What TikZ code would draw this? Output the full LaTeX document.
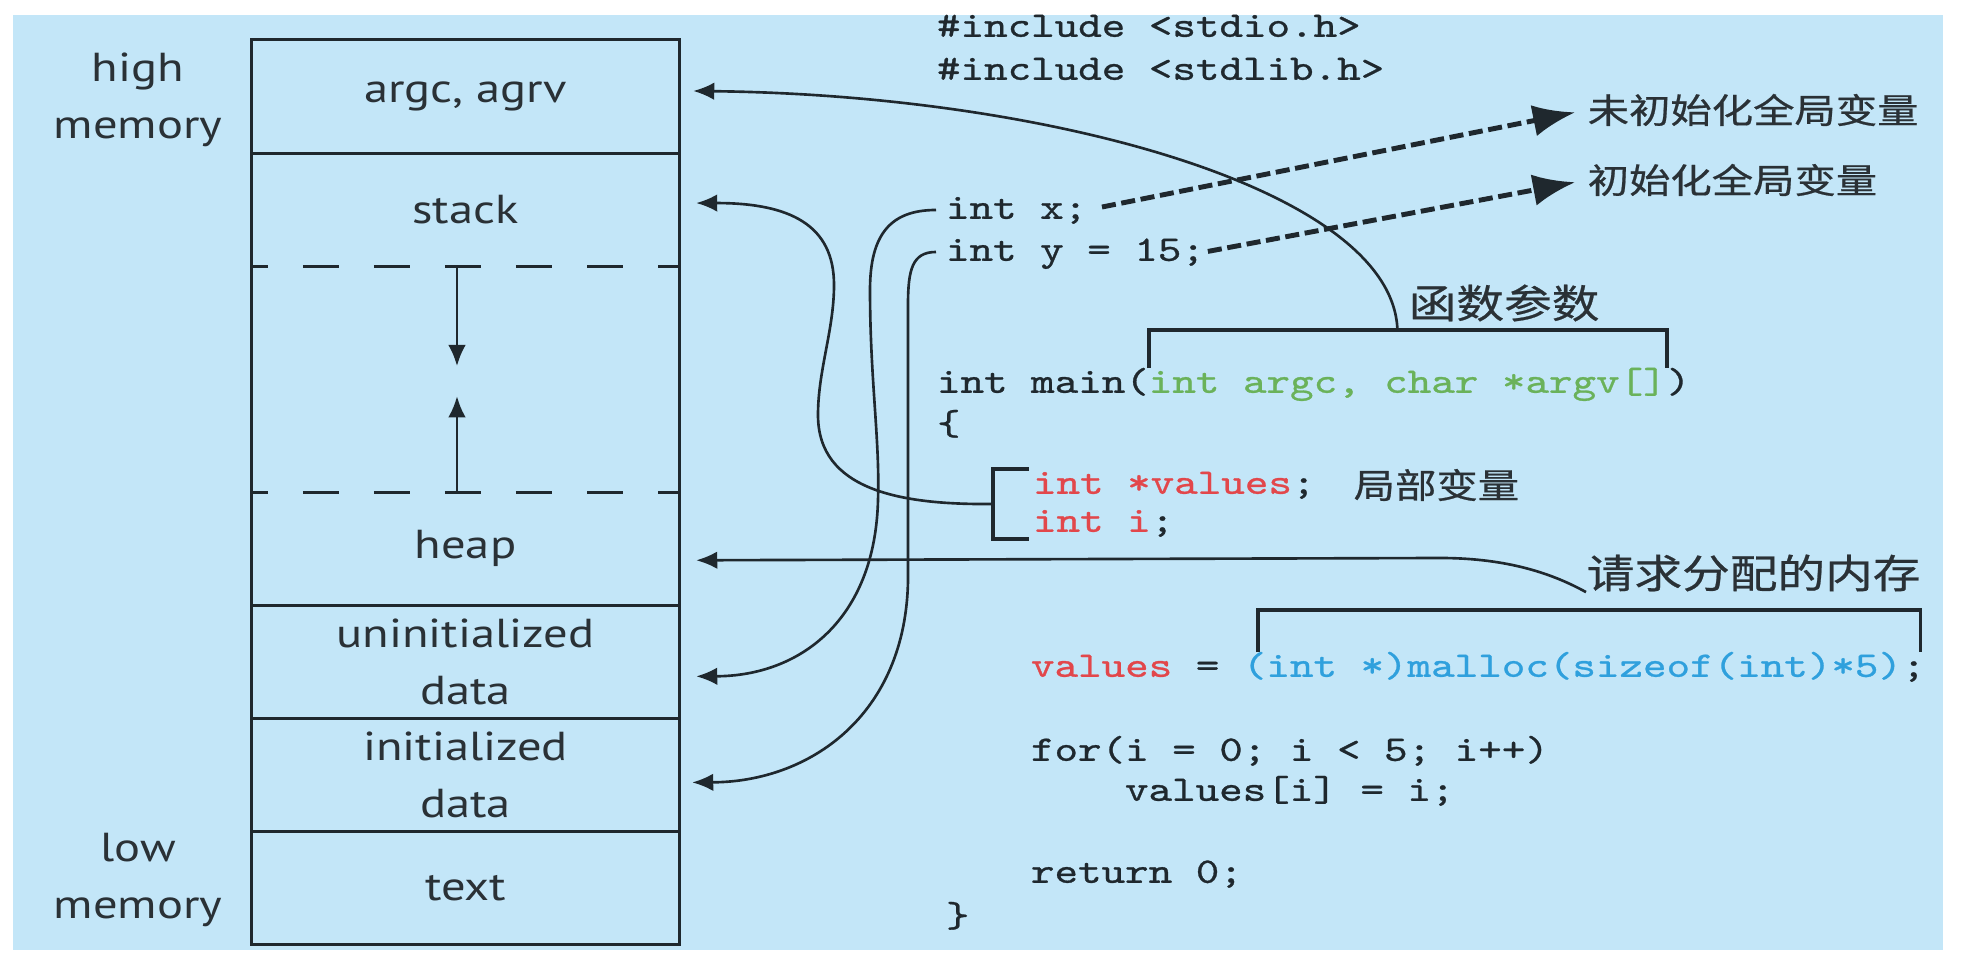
\documentclass[tikz,border=0pt]{standalone}
\usepackage{fontspec}
\setsansfont{PT Sans}[FakeStretch=1.2]
\setmonofont{lmmono10-regular.otf}[FakeStretch=1.25, FakeBold=0.8]
\newfontfamily\cjk{Noto Sans CJK SC}[FakeStretch=1.2, FakeBold=0.6]
\usetikzlibrary{arrows.meta,positioning}

\definecolor{panelBg}{HTML}{C3E6F8}
\definecolor{ink}{HTML}{1F282E}
\definecolor{labelGray}{HTML}{2A3136}
\definecolor{codeRed}{HTML}{E2474B}
\definecolor{codeGreen}{HTML}{6AB25A}
\definecolor{codeBlue}{HTML}{2FA0DD}

\tikzset{
  >={Latex[length=6pt,width=5pt]},
  seg/.style = {minimum width=4.27cm, minimum height=1.13cm, inner sep=0, outer sep=0, align=center, text=labelGray, font=\sffamily\fontsize{11.5}{16.2}\selectfont},
  memLabel/.style = {inner sep=0, align=center, text=labelGray, font=\sffamily\fontsize{11.5}{16.2}\selectfont},
  code/.style = {inner sep=0, outer sep=0, anchor=west, text=ink, text height=7pt, text depth=2pt, font=\ttfamily\fontsize{10.2}{12}\selectfont},
  cjkNote/.style = {inner sep=0, anchor=west, text=labelGray, font=\cjk\fontsize{9.8}{12}\selectfont},
  cjkTitle/.style = {cjkNote, font=\cjk\fontsize{11.3}{13}\selectfont},
  memFrame/.style = {draw=ink, line width=0.85pt},
  gapLine/.style = {draw=ink, line width=0.85pt, dash pattern=on 10.2pt off 10pt, dash phase=5.7pt},
  conn/.style = {draw=ink, line width=0.75pt, ->},
  globArrow/.style = {draw=ink, line width=1.4pt, dash pattern=on 4pt off 1.6pt, -{Latex[length=12pt,width=9pt]}},
  brk/.style = {draw=ink, line width=1pt},
}

\begin{document}
\begin{tikzpicture}[x=0.01cm, y=-0.01cm]
  \useasboundingbox (0,0) rectangle (1964,980);
  \fill[white] (0,0) rectangle (1964,980);
  \fill[panelBg] (13,15) rectangle (1943,950);

  % ----------------------------------------------------------------------
  % Memory layout
  % ----------------------------------------------------------------------
  \node[seg] (argcSeg) at (465.5,96.5) {argc, agrv};
  \node[seg, below=0pt of argcSeg] (stackSeg) {stack};
  \node[seg, below=0pt of stackSeg, minimum height=2.26cm] (gapSeg) {};
  \node[seg, below=0pt of gapSeg] (heapSeg) {heap};
  \node[seg, below=0pt of heapSeg] (uninitSeg) {uninitialized\\data};
  \node[seg, below=0pt of uninitSeg] (initSeg) {initialized\\data};
  \node[seg, below=0pt of initSeg] (textSeg) {text};

  \draw[memFrame] (argcSeg.north west) rectangle (textSeg.south east);
  \foreach \s in {stackSeg,uninitSeg,initSeg,textSeg} {
    \draw[memFrame] (\s.north west) -- (\s.north east);
  }
  \draw[gapLine] (gapSeg.north west) -- (gapSeg.north east);
  \draw[gapLine] (gapSeg.south west) -- (gapSeg.south east);

  % stack grows down, heap grows up
  \draw[conn] ([xshift=-0.85mm]gapSeg.north) -- ++(0,100);
  \draw[conn] ([xshift=-0.85mm]gapSeg.south) -- ++(0,-96);

  \node[memLabel] (highLbl) at (138,100) {high\\memory};
  \node[memLabel] (lowLbl) at (138,880) {low\\memory};

  % ----------------------------------------------------------------------
  % Program text
  % ----------------------------------------------------------------------
  \node[code] (inc1) at (937,28) {\#include <stdio.h>};
  \node[code] (inc2) at (937,71) {\#include <stdlib.h>};
  \node[code] (declX) at (946,210) {int x;};
  \node[code] (declY) at (946,252) {int y = 15;};
  \node[code] (mainHd) at (937,384) {int main(};
  \node[code, right=0pt of mainHd, text=codeGreen] (mainArgs) {int argc, char *argv[]};
  \node[code, right=0pt of mainArgs] (mainTl) {)};
  \node[code] (lbrace) at (937,426) {\{};
  \node[code, text=codeRed] (valDecl) at (1033,485) {int *values};
  \node[code, right=0pt of valDecl] (valSemi) {;};
  \node[code, text=codeRed] (iDecl) at (1033,523) {int i};
  \node[code, right=0pt of iDecl] (iSemi) {;};
  \node[code, text=codeRed] (mallocVar) at (1031,668) {values};
  \node[code, right=0pt of mallocVar] (mallocEq) {\ =\ \mbox{}};
  \node[code, right=0pt of mallocEq, text=codeBlue] (mallocCall) {(int *)malloc(sizeof(int)*5)};
  \node[code, right=0pt of mallocCall] (mallocSemi) {;};
  \node[code] (forLn) at (1031,752) {for(i = 0; i < 5; i++)};
  \node[code] (bodyLn) at (1125,792) {values[i] = i;};
  \node[code] (retLn) at (1031,874) {return 0;};
  \node[code] (rbrace) at (946,918) {\}};

  % notes
  \node[cjkNote] (uninitNote) at (1587,110) {未初始化全局变量};
  \node[cjkNote] (initNote) at (1587,180) {初始化全局变量};
  \node[cjkTitle] (argsNote) at (1408,303) {函数参数};
  \node[cjkNote] (localNote) at (1353,485) {局部变量};
  \node[cjkTitle] (heapNote) at (1586,573) {请求分配的内存};

  % brackets
  \draw[brk] (mainArgs.north west) -- ++(0,-38) -| coordinate[pos=0.24] (argsTop) (mainArgs.north east);
  \draw[brk] ([xshift=1.5mm]mallocCall.north west) -- ++(0,-42) -| ([xshift=-0.5mm]mallocSemi.north east);
  \draw[brk] ([xshift=-0.4mm]valDecl.north west) -- ++(-36,0) |- coordinate[pos=0.25] (localBr) ([xshift=-0.4mm]iDecl.south west);

  % ----------------------------------------------------------------------
  % Where each part lives
  % ----------------------------------------------------------------------
  \draw[conn] (argsTop) .. controls (1393,190) and (1050,95) .. ([xshift=1.4mm,yshift=0.55mm]argcSeg.east);
  \draw[conn] (localBr) .. controls (900,505) and (818,490) .. (818,415) .. controls (818,370) and (834,330) .. (834,285) .. controls (834,225) and (790,203) .. ([xshift=1.7mm,yshift=0.65mm]stackSeg.east);
  \draw[conn] ([xshift=-1mm]declX.west) .. controls (890,210) and (870,235) .. (870,290) .. controls (870,380) and (880,440) .. (878,500) .. controls (875,620) and (800,676) .. ([xshift=1.7mm,yshift=-1.45mm]uninitSeg.east);
  \draw[conn] ([xshift=-1mm]declY.west) .. controls (912,252) and (908,270) .. (908,305) -- (908,580) .. controls (906,715) and (810,782) .. ([xshift=1.3mm,yshift=-0.75mm]initSeg.east);
  \draw[conn] (heapNote.south west) .. controls (1555,575) and (1510,558) .. (1440,558) -- ([xshift=1.7mm,yshift=-1.15mm]heapSeg.east);

  \draw[globArrow, shorten <=1.5mm, shorten >=1.2mm] (declX.east) -- (uninitNote.west);
  \draw[globArrow, shorten <=0.3mm, shorten >=1.2mm] (declY.east) -- (initNote.west);
\end{tikzpicture}
\end{document}
